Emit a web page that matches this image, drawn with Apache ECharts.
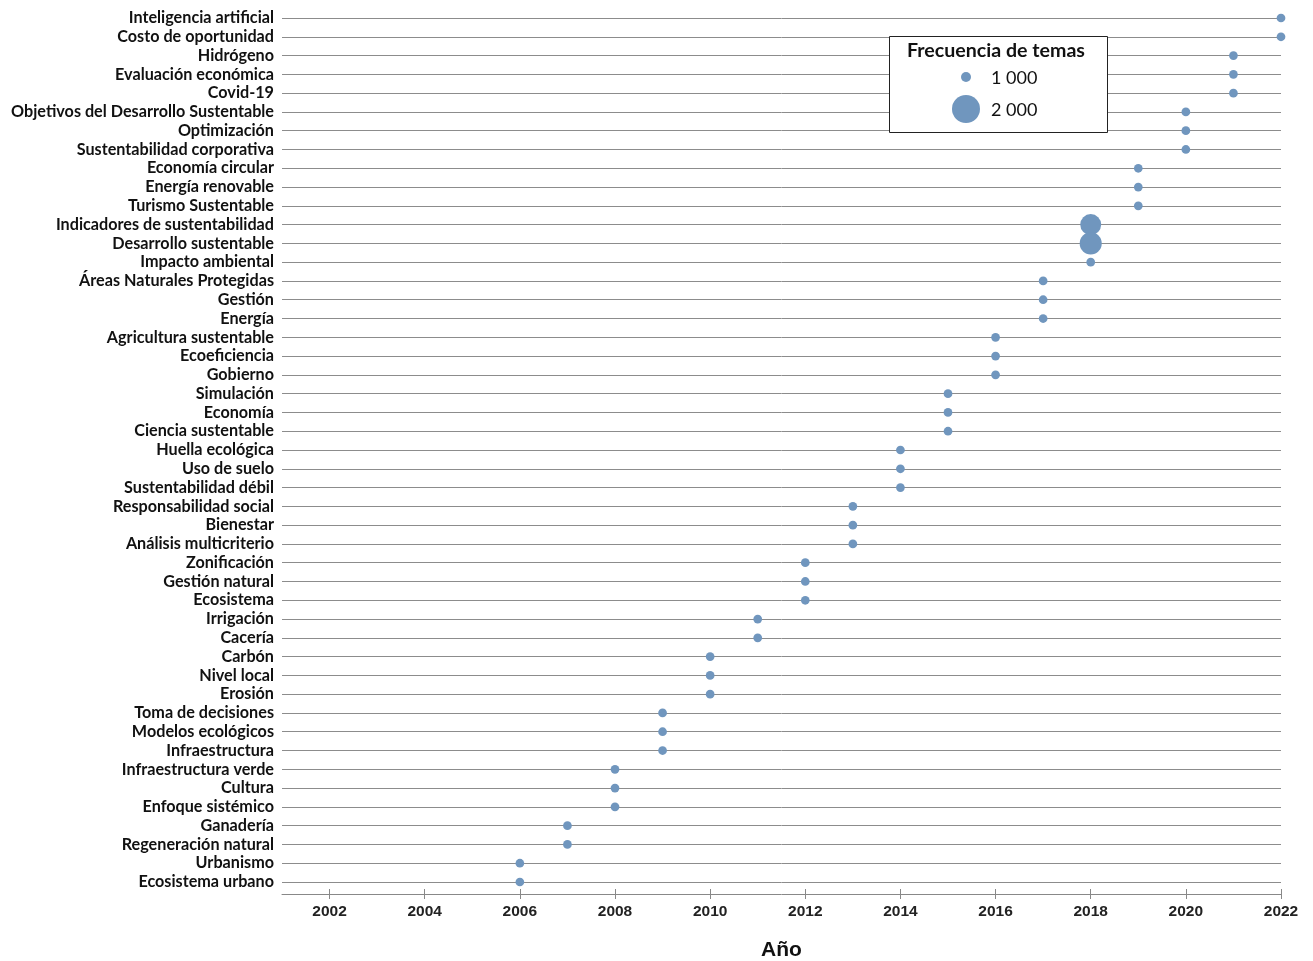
<!DOCTYPE html>
<html>
<head>
<meta charset="utf-8">
<script src="https://cdn.jsdelivr.net/npm/echarts@6/dist/echarts.min.js"></script>
<style>html,body{margin:0;padding:0;background:#fff}#c{width:1313px;height:961px}</style>
</head>
<body>
<div id="c"></div>
<script>
// Topics, listed top to bottom
const categories = [
  "Inteligencia artificial","Costo de oportunidad","Hidrógeno","Evaluación económica","Covid-19",
  "Objetivos del Desarrollo Sustentable","Optimización","Sustentabilidad corporativa",
  "Economía circular","Energía renovable","Turismo Sustentable",
  "Indicadores de sustentabilidad","Desarrollo sustentable","Impacto ambiental",
  "Áreas Naturales Protegidas","Gestión","Energía",
  "Agricultura sustentable","Ecoeficiencia","Gobierno",
  "Simulación","Economía","Ciencia sustentable",
  "Huella ecológica","Uso de suelo","Sustentabilidad débil",
  "Responsabilidad social","Bienestar","Análisis multicriterio",
  "Zonificación","Gestión natural","Ecosistema",
  "Irrigación","Cacería",
  "Carbón","Nivel local","Erosión",
  "Toma de decisiones","Modelos ecológicos","Infraestructura",
  "Infraestructura verde","Cultura","Enfoque sistémico",
  "Ganadería","Regeneración natural",
  "Urbanismo","Ecosistema urbano"
];
const years = [
  2022,2022,2021,2021,2021,
  2020,2020,2020,
  2019,2019,2019,
  2018,2018,2018,
  2017,2017,2017,
  2016,2016,2016,
  2015,2015,2015,
  2014,2014,2014,
  2013,2013,2013,
  2012,2012,2012,
  2011,2011,
  2010,2010,2010,
  2009,2009,2009,
  2008,2008,2008,
  2007,2007,
  2006,2006
];
const frequencies = [
  930,930,930,930,930,
  930,930,930,
  930,930,930,
  1610,1670,930,
  930,930,930,
  930,930,930,
  930,930,930,
  930,930,930,
  930,930,930,
  930,930,930,
  930,930,
  930,930,930,
  930,930,930,
  930,930,930,
  930,930,
  930,930
];
const yearTicks = [2002,2004,2006,2008,2010,2012,2014,2016,2018,2020,2022];
const legendValues = [1000, 2000];
const legendLabels = ["1 000", "2 000"];
const xTitle = "Año";
const legendTitle = "Frecuencia de temas";

const DOT = "#7096be";
function sizeOf(v) { return 10 + (v - 1000) * 0.018; }

const data = categories.map((c, i) => [years[i], c, frequencies[i]]);

const chart = echarts.init(document.getElementById('c'), null, {renderer: 'canvas'});
const gridTop = 18, gridBottomY = 882, axisY = 894;
const lblFont = 'Lato, "Open Sans", sans-serif';

const legendX = 889, legendY = 36;
const graphics = [
  {type: 'rect', shape: {x: legendX + 0.5, y: legendY + 0.5, width: 218, height: 96},
   style: {fill: '#fff', stroke: '#222', lineWidth: 1}, z: 10},
  {type: 'text', x: 996, y: 51, z: 11,
   style: {text: legendTitle, font: 'bold 19.6px ' + lblFont, fill: '#111', align: 'center', verticalAlign: 'middle'}}
];
legendValues.forEach((v, i) => {
  const cy = 77 + i * 32;
  graphics.push({type: 'circle', shape: {cx: 966, cy: cy, r: sizeOf(v) / 2}, style: {fill: DOT}, z: 11});
  graphics.push({type: 'text', x: 991, y: cy + 1, z: 11,
    style: {text: legendLabels[i], font: '18px ' + lblFont, fill: '#111', align: 'left', verticalAlign: 'middle'}});
});

chart.setOption({
  animation: false,
  backgroundColor: '#fff',
  grid: {left: 282, right: 32, top: gridTop, bottom: 961 - gridBottomY, containLabel: false, outerBoundsMode: 'none'},
  xAxis: [{
    type: 'value', min: 2001, max: 2022, position: 'bottom', offset: axisY - gridBottomY,
    axisLine: {show: true, lineStyle: {color: '#888', width: 1}},
    axisTick: {show: true, length: 5, customValues: yearTicks, lineStyle: {color: '#888'}},
    axisLabel: {show: true, margin: 10, customValues: yearTicks, formatter: v => String(v),
      fontFamily: '"Liberation Sans", Arial, sans-serif', fontWeight: 'bold', fontSize: 15.5, color: '#222'},
    splitLine: {show: false},
    name: xTitle, nameLocation: 'middle', nameGap: 46,
    nameTextStyle: {fontFamily: '"Liberation Sans", Arial, sans-serif', fontWeight: 'bold', fontSize: 21, color: '#111'}
  }, {
    type: 'value', min: 2001, max: 2022, position: 'top', offset: -(axisY - gridTop),
    axisLine: {show: false},
    axisTick: {show: true, length: 5, customValues: yearTicks, lineStyle: {color: '#888'}},
    axisLabel: {show: false},
    splitLine: {show: false}
  }],
  yAxis: {
    type: 'category', data: categories, inverse: true, boundaryGap: false,
    axisLine: {show: false}, axisTick: {show: false},
    axisLabel: {interval: 0, margin: 8, fontFamily: lblFont, fontWeight: 'bold', fontSize: 16.2, color: '#111'},
    splitLine: {show: true, interval: 0, lineStyle: {color: '#8c8c8c', width: 1}}
  },
  series: [{
    type: 'scatter', data: data, xAxisIndex: 0,
    symbol: 'circle',
    symbolSize: v => sizeOf(v[2]),
    itemStyle: {color: DOT, opacity: 1},
    z: 5
  }],
  graphic: graphics
});
</script>
</body>
</html>
